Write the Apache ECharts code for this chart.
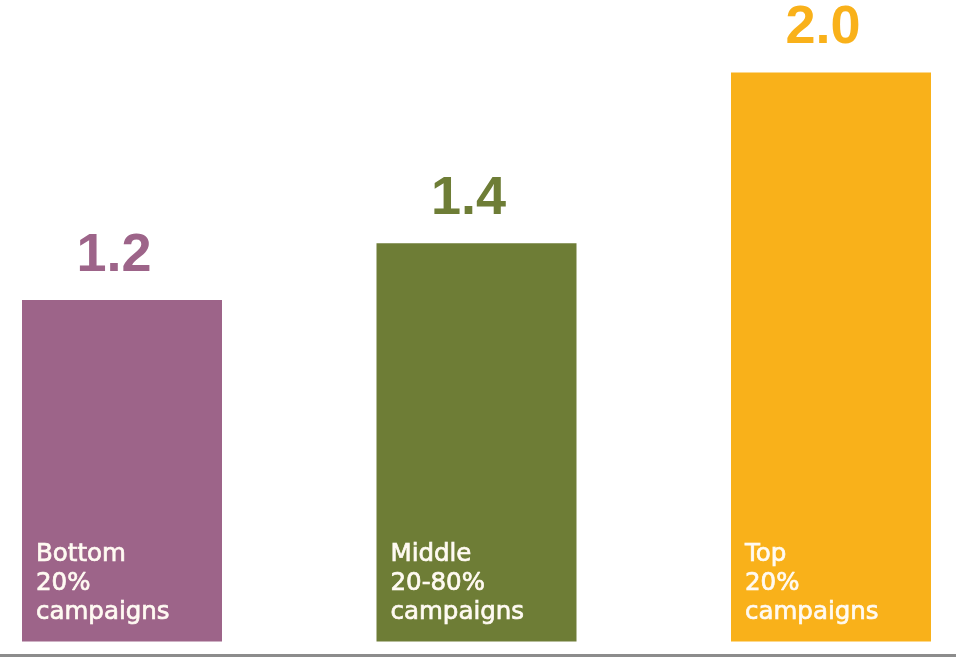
<!DOCTYPE html>
<html>
<head>
<meta charset="utf-8">
<script src="https://cdn.jsdelivr.net/npm/echarts@6/dist/echarts.min.js"></script>
<style>
  html, body { margin: 0; padding: 0; background: #ffffff; }
  #chart { width: 956px; height: 657px; }
</style>
</head>
<body>
<div id="chart"></div>
<script>
// Campaign groups, their multipliers and bar colours
const categories = ['Bottom\n20%\ncampaigns', 'Middle\n20-80%\ncampaigns', 'Top\n20%\ncampaigns'];
const values = [1.2, 1.4, 2.0];
const barColors = ['#9D6489', '#6E7D36', '#F9B11A'];

const chart = echarts.init(document.getElementById('chart'), null, { renderer: 'canvas' });

const option = {
  backgroundColor: '#ffffff',
  animation: false,
  grid: { left: 122, right: 125, top: 15.5, bottom: 15.5, containLabel: false },
  xAxis: {
    type: 'category',
    data: categories,
    boundaryGap: false,
    axisLine: { show: false },
    axisTick: { show: false },
    axisLabel: { show: false },
    splitLine: { show: false }
  },
  yAxis: {
    type: 'value',
    min: 0,
    max: 2.2,
    show: false,
    splitLine: { show: false }
  },
  series: [
    {
      // bars with the value printed above each one
      type: 'bar',
      barWidth: 200,
      clip: false,
      data: values.map((v, i) => ({ value: v, itemStyle: { color: barColors[i] } })),
      label: {
        show: true,
        position: 'top',
        distance: 17,
        offset: [-8, 0],
        formatter: p => p.value.toFixed(1),
        fontFamily: '"Liberation Sans", Arial, sans-serif',
        fontWeight: 'bold',
        fontSize: 54,
        lineHeight: 54,
        color: 'inherit'
      }
    },
    {
      // transparent overlay carrying the group name inside each bar
      type: 'bar',
      barWidth: 200,
      barGap: '-100%',
      clip: false,
      silent: true,
      data: values,
      itemStyle: { color: 'rgba(0,0,0,0)' },
      label: {
        show: true,
        position: 'insideBottomLeft',
        distance: 14,
        formatter: p => categories[p.dataIndex],
        fontFamily: '"DejaVu Sans", sans-serif',
        fontSize: 24.5,
        lineHeight: 29,
        align: 'left',
        color: '#fffaf2',
        textBorderColor: '#fffaf2',
        textBorderWidth: 0.7
      }
    }
  ],
  graphic: [
    {
      // grey rule along the foot of the chart
      type: 'rect',
      left: 0,
      bottom: 0,
      shape: { width: 956, height: 3 },
      style: { fill: '#8c8c8c' }
    }
  ]
};

chart.setOption(option);
</script>
</body>
</html>
